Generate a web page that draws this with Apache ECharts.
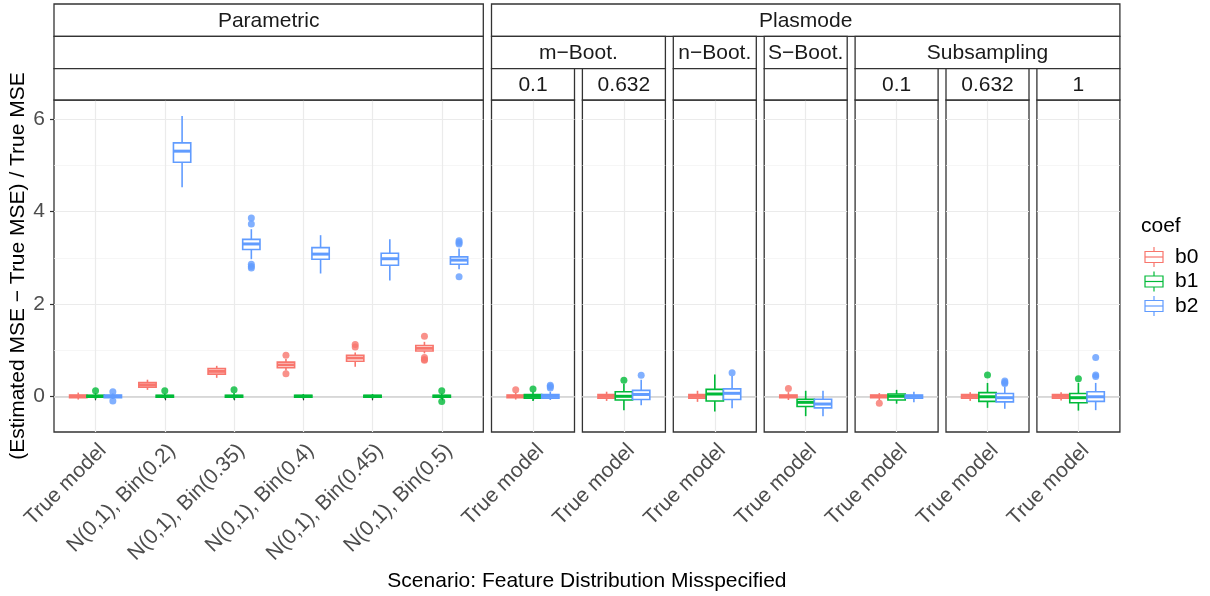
<!DOCTYPE html>
<html><head><meta charset="utf-8">
<script src="https://cdn.jsdelivr.net/npm/echarts@6/dist/echarts.min.js"></script>
<style>html,body{margin:0;padding:0;background:#fff}#c{width:1210px;height:596px}</style>
</head><body><div id="c"></div><script>
// ---------------- DATA ----------------
const coefs = ['b0', 'b1', 'b2'];
const coefColors = ['#F8766D', '#00BA38', '#619CFF'];
const paramCategories = ['True model', 'N(0,1), Bin(0.2)', 'N(0,1), Bin(0.35)', 'N(0,1), Bin(0.4)', 'N(0,1), Bin(0.45)', 'N(0,1), Bin(0.5)'];
const plasmodeCategories = ['True model'];
const yTicks = [0, 2, 4, 6];
const yMinorTicks = [1, 3, 5];
const stripTop = ['Parametric', 'Plasmode'];
const stripMid = ['m\u2212Boot.', 'n\u2212Boot.', 'S\u2212Boot.', 'Subsampling'];
const stripMidSpan = [2, 1, 1, 3];
const stripBottom = ['0.1', '0.632', '', '', '0.1', '0.632', '1'];
const yTitle = '(Estimated MSE \u2212 True MSE) / True MSE';
const xTitle = 'Scenario: Feature Distribution Misspecified';
const legendTitle = 'coef';

// Parametric panel: [min, q1, median, q3, max] per category
const paramB0 = [[-0.07, -0.03, 0, 0.03, 0.08], [0.14, 0.20, 0.25, 0.30, 0.36], [0.40, 0.48, 0.54, 0.60, 0.66], [0.56, 0.62, 0.68, 0.74, 0.81], [0.64, 0.76, 0.83, 0.89, 0.95], [0.93, 0.98, 1.04, 1.10, 1.18]];
const paramB1 = [[-0.06, -0.02, 0, 0.02, 0.07], [-0.05, -0.02, 0, 0.02, 0.06], [-0.07, -0.02, 0, 0.02, 0.07], [-0.05, -0.02, 0, 0.02, 0.05], [-0.05, -0.02, 0, 0.02, 0.05], [-0.06, -0.02, 0, 0.02, 0.06]];
const paramB2 = [[-0.06, -0.03, 0, 0.03, 0.06], [4.53, 5.07, 5.31, 5.49, 6.07], [2.97, 3.18, 3.30, 3.40, 3.62], [2.66, 2.97, 3.08, 3.22, 3.49], [2.51, 2.84, 2.98, 3.10, 3.40], [2.75, 2.86, 2.95, 3.02, 3.20]];
// outliers: [categoryIndex, value]
const paramB0Out = [[3, 0.89], [3, 0.49], [4, 1.12], [4, 1.07], [5, 1.30], [5, 0.84], [5, 0.80], [5, 0.78]];
const paramB1Out = [[0, 0.12], [1, 0.12], [2, 0.14], [5, 0.12], [5, -0.11]];
const paramB2Out = [[0, 0.10], [0, -0.10], [2, 3.86], [2, 3.73], [2, 2.86], [2, 2.81], [2, 2.78], [5, 3.37], [5, 3.33], [5, 3.30], [5, 2.59]];

// Plasmode panels (m-Boot 0.1, m-Boot 0.632, n-Boot, S-Boot, Subs 0.1, Subs 0.632, Subs 1)
const plasB0 = [[-0.07, -0.03, 0, 0.03, 0.08], [-0.10, -0.04, 0, 0.04, 0.10], [-0.12, -0.04, 0, 0.04, 0.12], [-0.08, -0.03, 0, 0.03, 0.09], [-0.08, -0.03, 0, 0.03, 0.07], [-0.10, -0.04, 0, 0.04, 0.09], [-0.09, -0.04, 0, 0.04, 0.09]];
const plasB1 = [[-0.10, -0.04, 0, 0.04, 0.10], [-0.30, -0.08, 0.0, 0.10, 0.27], [-0.33, -0.10, 0.05, 0.15, 0.47], [-0.43, -0.22, -0.13, -0.065, 0.12], [-0.16, -0.08, 0.0, 0.05, 0.14], [-0.25, -0.11, -0.01, 0.08, 0.29], [-0.31, -0.14, -0.03, 0.06, 0.29]];
const plasB2 = [[-0.08, -0.04, 0, 0.04, 0.10], [-0.195, -0.07, 0.04, 0.128, 0.36], [-0.26, -0.07, 0.065, 0.16, 0.44], [-0.43, -0.25, -0.167, -0.065, 0.12], [-0.13, -0.04, 0, 0.03, 0.10], [-0.27, -0.12, -0.03, 0.06, 0.21], [-0.30, -0.11, -0.01, 0.10, 0.29]];
// outliers: [panelIndex, value]
const plasB0Out = [[0, 0.14], [3, 0.17], [4, -0.15]];
const plasB1Out = [[0, 0.16], [1, 0.35], [5, 0.46], [6, 0.38]];
const plasB2Out = [[0, 0.24], [0, 0.21], [0, 0.18], [1, 0.455], [2, 0.51], [5, 0.33], [5, 0.30], [5, 0.28], [6, 0.46], [6, 0.43], [6, 0.84]];

// ---------------- LAYOUT ----------------
const FONT = "'Liberation Sans', Arial, Helvetica, sans-serif";
const Y_MIN = -0.773, Y_MAX = 6.418;
const PANEL_TOP = 100, PANEL_H = 332;
const STRIP_ROWS = [4, 36.3, 68.7, 100];
const PARAM_LEFT = 54, PARAM_W = 429.3;
const SMALL_LEFT0 = 491.5, SMALL_PITCH = 90.9, SMALL_W = 83;
const DODGE = [-0.25, 0, 0.25];
const BOX_W = 0.25;
const TICK_FS = 21, STRIP_FS = 21, TITLE_FS = 21, LEG_FS = 21;

const panels = [{ left: PARAM_LEFT, width: PARAM_W, cats: paramCategories }];
for (let i = 0; i < 7; i++) panels.push({ left: SMALL_LEFT0 + i * SMALL_PITCH, width: SMALL_W, cats: plasmodeCategories });

const statsByPanel = [];
const outByPanel = [];
const paramStats = [paramB0, paramB1, paramB2];
const paramOut = [paramB0Out, paramB1Out, paramB2Out];
const plasStats = [plasB0, plasB1, plasB2];
const plasOut = [plasB0Out, plasB1Out, plasB2Out];
statsByPanel.push(paramStats.map(arr => arr.map((s, ci) => [ci + 1].concat(s))));
outByPanel.push(paramOut.map(arr => arr.map(o => [o[0] + 1, o[1]])));
for (let p = 0; p < 7; p++) {
  statsByPanel.push(plasStats.map(arr => [[1].concat(arr[p])]));
  outByPanel.push(plasOut.map(arr => arr.filter(o => o[0] === p).map(o => [1, o[1]])));
}

function boxRenderer(offset, color) {
  return function (params, api) {
    const x = api.value(0) + offset;
    const pMin = api.coord([x, api.value(1)]);
    const pQ1 = api.coord([x, api.value(2)]);
    const pMed = api.coord([x, api.value(3)]);
    const pQ3 = api.coord([x, api.value(4)]);
    const pMax = api.coord([x, api.value(5)]);
    const hw = api.size([BOX_W, 0])[0] / 2;
    const lw = 1.6;
    return {
      type: 'group', children: [
        { type: 'line', shape: { x1: pMax[0], y1: pMax[1], x2: pQ3[0], y2: pQ3[1] }, style: { stroke: color, lineWidth: lw } },
        { type: 'line', shape: { x1: pQ1[0], y1: pQ1[1], x2: pMin[0], y2: pMin[1] }, style: { stroke: color, lineWidth: lw } },
        { type: 'rect', shape: { x: pQ3[0] - hw, y: pQ3[1], width: 2 * hw, height: pQ1[1] - pQ3[1] }, style: { fill: '#fff', stroke: color, lineWidth: lw } },
        { type: 'line', shape: { x1: pMed[0] - hw, y1: pMed[1], x2: pMed[0] + hw, y2: pMed[1] }, style: { stroke: color, lineWidth: 3 } }
      ]
    };
  };
}

const grids = [], xAxes = [], yAxes = [], series = [];
panels.forEach((pn, i) => {
  const n = pn.cats.length;
  const ticks = pn.cats.map((c, k) => k + 1);
  grids.push({ left: pn.left, top: PANEL_TOP, width: pn.width, height: PANEL_H, show: true, backgroundColor: '#fff', borderColor: '#333333', borderWidth: 1.3, containLabel: false });
  xAxes.push({
    type: 'value', gridIndex: i, min: 0.4, max: n + 0.6,
    axisLine: { show: false },
    axisTick: { show: true, customValues: ticks, length: 4, lineStyle: { color: '#333333', width: 1.2 } },
    axisLabel: { show: true, customValues: ticks, rotate: 45, verticalAlign: 'top', formatter: v => pn.cats[Math.round(v) - 1], color: '#4D4D4D', fontSize: TICK_FS, fontFamily: FONT, margin: 8 },
    splitLine: { show: true, lineStyle: { color: '#EBEBEB', width: 1.2 } }
  });
  const mainY = yAxes.length;
  yAxes.push({
    type: 'value', gridIndex: i, min: Y_MIN, max: Y_MAX, position: 'left',
    axisLine: { show: false },
    axisTick: { show: i === 0, customValues: yTicks, length: 4, lineStyle: { color: '#333333', width: 1.2 } },
    axisLabel: { show: i === 0, customValues: yTicks, color: '#4D4D4D', fontSize: TICK_FS, fontFamily: FONT, margin: 9 },
    splitLine: { show: true, lineStyle: { color: '#EBEBEB', width: 1.2 } }
  });
  yAxes.push({
    type: 'value', gridIndex: i, min: Y_MIN, max: Y_MAX, position: 'right',
    axisLine: { show: false },
    axisTick: { show: false, customValues: yMinorTicks },
    axisLabel: { show: false, customValues: yMinorTicks },
    splitLine: { show: true, lineStyle: { color: '#F2F2F2', width: 0.7 } }
  });
  series.push({
    type: 'line', xAxisIndex: i, yAxisIndex: mainY, data: [], silent: true, z: 1,
    markLine: { silent: true, symbol: 'none', z: 1, label: { show: false }, lineStyle: { color: '#D0D0D0', width: 1.5, type: 'solid' }, data: [{ yAxis: 0 }] }
  });
  coefs.forEach((cf, k) => {
    series.push({
      type: 'custom', name: cf, xAxisIndex: i, yAxisIndex: mainY, z: 3,
      renderItem: boxRenderer(DODGE[k], coefColors[k]),
      encode: { x: 0, y: [1, 2, 3, 4, 5] },
      data: statsByPanel[i][k], silent: true
    });
    series.push({
      type: 'scatter', name: cf, xAxisIndex: i, yAxisIndex: mainY, z: 4,
      symbolSize: 7, itemStyle: { color: coefColors[k] }, silent: true,
      data: outByPanel[i][k].map(o => [o[0] + DODGE[k], o[1]])
    });
  });
});

// ---------------- STRIPS / TITLES / LEGEND ----------------
const graphics = [];
function strip(x, y0, y1, w, text) {
  graphics.push({ type: 'rect', shape: { x: x, y: y0, width: w, height: y1 - y0 }, style: { fill: '#fff', stroke: '#333333', lineWidth: 1.3 }, z: 10 });
  if (text) graphics.push({ type: 'text', x: x + w / 2, y: (y0 + y1) / 2 + 1, style: { text: text, fill: '#1A1A1A', font: STRIP_FS + 'px ' + FONT, align: 'center', verticalAlign: 'middle' }, z: 11 });
}
const smallRight = (i) => SMALL_LEFT0 + i * SMALL_PITCH + SMALL_W;
const smallLeft = (i) => SMALL_LEFT0 + i * SMALL_PITCH;
strip(PARAM_LEFT, STRIP_ROWS[0], STRIP_ROWS[1], PARAM_W, stripTop[0]);
strip(PARAM_LEFT, STRIP_ROWS[1], STRIP_ROWS[2], PARAM_W, '');
strip(PARAM_LEFT, STRIP_ROWS[2], STRIP_ROWS[3], PARAM_W, '');
strip(smallLeft(0), STRIP_ROWS[0], STRIP_ROWS[1], smallRight(6) - smallLeft(0), stripTop[1]);
let idx = 0;
stripMid.forEach((t, g) => {
  const a = idx, b = idx + stripMidSpan[g] - 1;
  strip(smallLeft(a), STRIP_ROWS[1], STRIP_ROWS[2], smallRight(b) - smallLeft(a), t);
  idx += stripMidSpan[g];
});
stripBottom.forEach((t, i) => strip(smallLeft(i), STRIP_ROWS[2], STRIP_ROWS[3], SMALL_W, t));

graphics.push({ type: 'text', x: (PARAM_LEFT + smallRight(6)) / 2, y: 581, style: { text: xTitle, fill: '#000', font: TITLE_FS + 'px ' + FONT, align: 'center', verticalAlign: 'middle' } });
graphics.push({ type: 'text', x: 18, y: PANEL_TOP + PANEL_H / 2, rotation: Math.PI / 2, style: { text: yTitle, fill: '#000', font: TITLE_FS + 'px ' + FONT, align: 'center', verticalAlign: 'middle' } });

graphics.push({ type: 'text', x: 1141, y: 226, style: { text: legendTitle, fill: '#000', font: TITLE_FS + 'px ' + FONT, align: 'left', verticalAlign: 'middle' } });
coefs.forEach((cf, k) => {
  const cy = 257 + k * 24.5, cx = 1154, c = coefColors[k];
  graphics.push({ type: 'line', shape: { x1: cx, y1: cy - 10, x2: cx, y2: cy - 5.5 }, style: { stroke: c, lineWidth: 1.2 } });
  graphics.push({ type: 'line', shape: { x1: cx, y1: cy + 5.5, x2: cx, y2: cy + 10 }, style: { stroke: c, lineWidth: 1.2 } });
  graphics.push({ type: 'rect', shape: { x: cx - 9, y: cy - 5.5, width: 18, height: 11 }, style: { fill: '#fff', stroke: c, lineWidth: 1.2 } });
  graphics.push({ type: 'line', shape: { x1: cx - 9, y1: cy, x2: cx + 9, y2: cy }, style: { stroke: c, lineWidth: 1.2 } });
  graphics.push({ type: 'text', x: 1175, y: cy, style: { text: cf, fill: '#000', font: LEG_FS + 'px ' + FONT, align: 'left', verticalAlign: 'middle' } });
});

const chart = echarts.init(document.getElementById('c'), null, { renderer: 'canvas' });
chart.setOption({
  animation: false,
  backgroundColor: '#fff',
  textStyle: { fontFamily: FONT },
  grid: grids, xAxis: xAxes, yAxis: yAxes, series: series,
  graphic: { elements: graphics }
});
</script></body></html>
